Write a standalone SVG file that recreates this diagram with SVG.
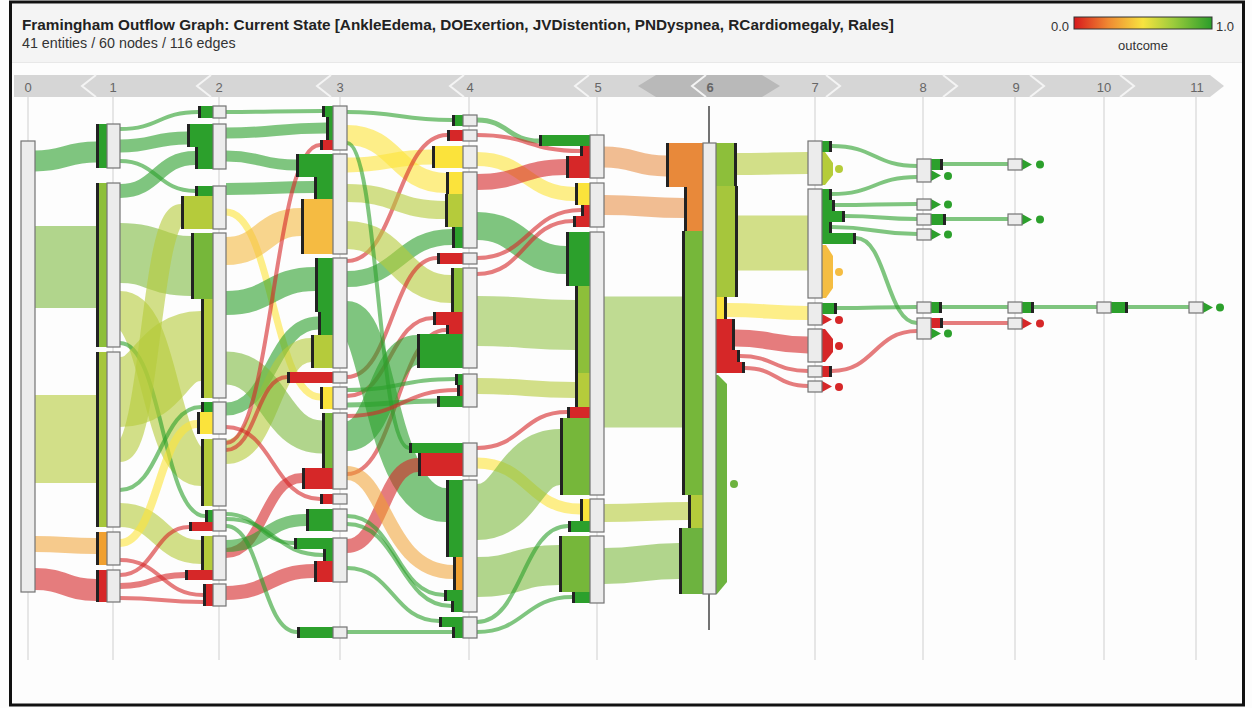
<svg xmlns="http://www.w3.org/2000/svg" width="1252" height="708" viewBox="0 0 1252 708">
<defs>
<style>
.t{font-family:"Liberation Sans",Arial,sans-serif}
.nd{fill:#ececec;stroke:#747474;stroke-width:1.2}
.k{fill:#222}
.dg{fill:#2ca02c}.rd{fill:#d62728}.ye{fill:#fbe33b}.or{fill:#f5bb42}.o2{fill:#f0a030}.o3{fill:#e8893a}
.gm{fill:#76b73a}.gl{fill:#8dbf3a}.yg{fill:#b5cb3b}.y2{fill:#a6c63c}.g6{fill:#6db33f}
.e{fill:none}
.eg{stroke:#2ca02c;stroke-opacity:.6}
.er{stroke:#d62728;stroke-opacity:.6}
.ey{stroke:#fde43a;stroke-opacity:.6}
.eo{stroke:#f0a030;stroke-opacity:.55}
.eo1{stroke:#f5bb42;stroke-opacity:.6}
.eo3{stroke:#e8893a;stroke-opacity:.55}
.e2{stroke:#7ab83a;stroke-opacity:.58}
.egl{stroke:#8dbf3a;stroke-opacity:.55}
.eyg{stroke:#b5cb3b;stroke-opacity:.6}
.grid line{stroke:#dedede;stroke-width:1.5}
.lbl{font-size:13px;fill:#666;text-anchor:middle}
.sep{fill:none;stroke:#f4f4f4;stroke-width:2}
</style>
<linearGradient id="outcomeScale" x1="0" y1="0" x2="1" y2="0">
<stop offset="0" stop-color="#d7191c"/>
<stop offset="0.25" stop-color="#f08a32"/>
<stop offset="0.5" stop-color="#f7e33f"/>
<stop offset="0.72" stop-color="#9ccc3c"/>
<stop offset="1" stop-color="#2a9d2a"/>
</linearGradient>
</defs>

<rect x="0" y="0" width="1252" height="708" fill="#fdfdfd"/>

<!-- header -->
<g id="header">
<rect x="12" y="4" width="1230" height="58" fill="#f4f4f4"/>
<line x1="12" y1="62.5" x2="1242" y2="62.5" stroke="#e8e8e8"/>
<text class="t" x="22" y="30" font-size="15.3" font-weight="bold" fill="#222">Framingham Outflow Graph: Current State [AnkleEdema, DOExertion, JVDistention, PNDyspnea, RCardiomegaly, Rales]</text>
<text class="t" x="22" y="48" font-size="14.3" fill="#333">41 entities / 60 nodes / 116 edges</text>
</g>

<!-- legend -->
<g id="legend">
<text class="t" x="1069" y="31" font-size="13" fill="#333" text-anchor="end">0.0</text>
<rect x="1074" y="17" width="138" height="12" fill="url(#outcomeScale)" stroke="#333" stroke-width="1"/>
<text class="t" x="1216" y="31" font-size="13" fill="#333">1.0</text>
<text class="t" x="1143" y="50" font-size="13" fill="#333" text-anchor="middle">outcome</text>
</g>

<!-- step timeline -->
<g id="timeline">
<polygon points="14,75 1210,75 1224,86 1210,97 14,97" fill="#d6d6d6"/>
<polygon points="656,75 762,75 780,86 762,97 656,97 638,86" fill="#b9b9b9"/>
<polyline class="sep" points="96,75 82,86 96,97"/>
<polyline class="sep" points="211,75 197,86 211,97"/>
<polyline class="sep" points="331,75 317,86 331,97"/>
<polyline class="sep" points="464,75 450,86 464,97"/>
<polyline class="sep" points="589,75 575,86 589,97"/>
<polyline class="sep" points="706,75 692,86 706,97"/>
<polyline class="sep" points="826,75 840,86 826,97"/>
<polyline class="sep" points="943,75 957,86 943,97"/>
<polyline class="sep" points="1030,75 1044,86 1030,97"/>
<polyline class="sep" points="1120,75 1134,86 1120,97"/>
<text class="t lbl" x="28" y="92">0</text>
<text class="t lbl" x="113" y="92">1</text>
<text class="t lbl" x="219" y="92">2</text>
<text class="t lbl" x="340" y="92">3</text>
<text class="t lbl" x="470" y="92">4</text>
<text class="t lbl" x="598" y="92">5</text>
<text class="t lbl" x="710" y="92" font-weight="bold" fill="#222">6</text>
<text class="t lbl" x="815" y="92">7</text>
<text class="t lbl" x="923" y="92">8</text>
<text class="t lbl" x="1016" y="92">9</text>
<text class="t lbl" x="1104" y="92">10</text>
<text class="t lbl" x="1197" y="92">11</text>
</g>

<!-- step gridlines -->
<g class="grid">
<line x1="28" y1="97" x2="28" y2="660"/>
<line x1="113" y1="97" x2="113" y2="660"/>
<line x1="219" y1="97" x2="219" y2="660"/>
<line x1="340" y1="97" x2="340" y2="660"/>
<line x1="469" y1="97" x2="469" y2="660"/>
<line x1="597" y1="97" x2="597" y2="660"/>
<line x1="815" y1="97" x2="815" y2="660"/>
<line x1="923" y1="97" x2="923" y2="660"/>
<line x1="1015" y1="97" x2="1015" y2="660"/>
<line x1="1104" y1="97" x2="1104" y2="660"/>
<line x1="1196" y1="97" x2="1196" y2="660"/>
</g>

<!-- flow edges -->
<g id="connectors">
<path class="e eg" stroke-width="21" d="M35 161C65.5 161 65.5 152 96 152"/>
<path class="e e2" stroke-width="82" d="M35 267H96"/>
<path class="e eyg" stroke-width="88" d="M35 439H96"/>
<path class="e eo" stroke-width="16" d="M35 544C65.5 544 65.5 546 96 546"/>
<path class="e er" stroke-width="22" d="M35 579C65.5 579 65.5 590 96 590"/>

<path class="e eg" stroke-width="4" d="M120 129C159 129 159 112 198 112"/>
<path class="e eg" stroke-width="13" d="M120 146C153.5 146 153.5 138 187 138"/>
<path class="e eg" stroke-width="4" d="M120 161C157.5 161 157.5 191 195 191"/>
<path class="e eg" stroke-width="14" d="M120 191C157.5 191 157.5 158 195 158"/>
<path class="e e2" stroke-width="60" d="M120 253C155.5 253 155.5 266 191 266"/>
<path class="e eyg" stroke-width="38" d="M120 310C160.5 310 160.5 467 201 467"/>
<path class="e eg" stroke-width="4" d="M120 343C162.5 343 162.5 516 205 516"/>
<path class="e eyg" stroke-width="70" d="M120 392C160.5 392 160.5 346 201 346"/>
<path class="e eyg" stroke-width="20" d="M120 452C150.5 452 150.5 214 181 214"/>
<path class="e eg" stroke-width="4" d="M120 490C160.5 490 160.5 407 201 407"/>
<path class="e eyg" stroke-width="24" d="M120 515C160.5 515 160.5 552 201 552"/>
<path class="e ey" stroke-width="8" d="M120 543C158.5 543 158.5 424 197 424"/>
<path class="e er" stroke-width="4" d="M120 560C161.5 560 161.5 595 203 595"/>
<path class="e er" stroke-width="4" d="M120 575C154.5 575 154.5 527 189 527"/>
<path class="e er" stroke-width="6" d="M120 586C152.5 586 152.5 575 185 575"/>
<path class="e er" stroke-width="4" d="M120 598C161.5 598 161.5 602 203 602"/>

<path class="e eg" stroke-width="4" d="M226 112C274 112 274 111 322 111"/>
<path class="e eg" stroke-width="11" d="M226 133C276 133 276 128 326 128"/>
<path class="e eg" stroke-width="11" d="M226 156C261 156 261 165 296 165"/>
<path class="e eg" stroke-width="12" d="M226 189C270 189 270 187 314 187"/>
<path class="e ey" stroke-width="7" d="M226 212C273 212 273 397 320 397"/>
<path class="e eo1" stroke-width="28" d="M226 251C263.5 251 263.5 222 301 222"/>
<path class="e eg" stroke-width="24" d="M226 303C270.5 303 270.5 279 315 279"/>
<path class="e eg" stroke-width="13" d="M226 409C272 409 272 323 318 323"/>
<path class="e eyg" stroke-width="24" d="M226 452C268.5 452 268.5 350 311 350"/>
<path class="e e2" stroke-width="33" d="M226 368C274 368 274 437 322 437"/>
<path class="e er" stroke-width="4" d="M226 443C273 443 273 145 320 145"/>
<path class="e er" stroke-width="4" d="M226 450C256.5 450 256.5 377 287 377"/>
<path class="e er" stroke-width="4" d="M226 427C273 427 273 499 320 499"/>
<path class="e er" stroke-width="10" d="M226 553C264 553 264 478 302 478"/>
<path class="e er" stroke-width="14" d="M226 593C270 593 270 571 314 571"/>
<path class="e eg" stroke-width="12" d="M226 546C266 546 266 520 306 520"/>
<path class="e eg" stroke-width="4" d="M226 514C260 514 260 543 294 543"/>
<path class="e eg" stroke-width="4" d="M226 519C274.5 519 274.5 555 323 555"/>
<path class="e eg" stroke-width="4" d="M226 526C261.5 526 261.5 632 297 632"/>

<path class="e eg" stroke-width="4" d="M347 112C399.5 112 399.5 120 452 120"/>
<path class="e ey" stroke-width="20" d="M347 135C396.5 135 396.5 183 446 183"/>
<path class="e ey" stroke-width="15" d="M347 165C389.5 165 389.5 157 432 157"/>
<path class="e er" stroke-width="4" d="M347 261C397 261 397 135 447 135"/>
<path class="e eyg" stroke-width="18" d="M347 193C396 193 396 210 445 210"/>
<path class="e eg" stroke-width="16" d="M347 279C399.5 279 399.5 237 452 237"/>
<path class="e eyg" stroke-width="28" d="M347 235C399 235 399 289 451 289"/>
<path class="e er" stroke-width="4" d="M347 377C392 377 392 258 437 258"/>
<path class="e er" stroke-width="4" d="M347 396C390 396 390 318 433 318"/>
<path class="e er" stroke-width="4" d="M347 474C396.5 474 396.5 330 446 330"/>
<path class="e eg" stroke-width="30" d="M347 436C382 436 382 350 417 350"/>
<path class="e eg" stroke-width="4" d="M347 143C378 143 378 448 409 448"/>
<path class="e eg" stroke-width="34" d="M347 318C380 318 380 505 446 505"/>
<path class="e eg" stroke-width="4" d="M347 390C401 390 401 379 455 379"/>
<path class="e eg" stroke-width="5" d="M347 405C392 405 392 401 437 401"/>
<path class="e er" stroke-width="4" d="M347 416C402 416 402 390 457 390"/>
<path class="e er" stroke-width="14" d="M347 546C382.5 546 382.5 465 418 465"/>
<path class="e eo" stroke-width="14" d="M347 473C386 473 386 572 453 572"/>
<path class="e eg" stroke-width="4" d="M347 516C395.5 516 395.5 595 444 595"/>
<path class="e eg" stroke-width="4" d="M347 524C399 524 399 606 451 606"/>
<path class="e eg" stroke-width="4" d="M347 568C393 568 393 621 439 621"/>
<path class="e eg" stroke-width="4" d="M347 632H452"/>

<path class="e eg" stroke-width="5" d="M477 120C508 120 508 141 539 141"/>
<path class="e er" stroke-width="4" d="M477 135C528.5 135 528.5 151 580 151"/>
<path class="e ey" stroke-width="14" d="M477 159C526 159 526 194 575 194"/>
<path class="e er" stroke-width="16" d="M477 182C521.5 182 521.5 167 566 167"/>
<path class="e eg" stroke-width="28" d="M477 226C521.5 226 521.5 260 566 260"/>
<path class="e er" stroke-width="4" d="M477 258C529 258 529 210 581 210"/>
<path class="e er" stroke-width="4" d="M477 274C525 274 525 221 573 221"/>
<path class="e egl" stroke-width="50" d="M477 321C526 321 526 325 575 325"/>
<path class="e eyg" stroke-width="16" d="M477 386C526 386 526 390 575 390"/>
<path class="e er" stroke-width="4" d="M477 448C522 448 522 412 567 412"/>
<path class="e ey" stroke-width="11" d="M477 463C528.5 463 528.5 509 580 509"/>
<path class="e e2" stroke-width="56" d="M477 512C518.5 512 518.5 457 560 457"/>
<path class="e e2" stroke-width="40" d="M477 577C518 577 518 565 559 565"/>
<path class="e eg" stroke-width="4" d="M477 622C522.5 622 522.5 526 568 526"/>
<path class="e eg" stroke-width="4" d="M477 632C524.5 632 524.5 597 572 597"/>

<path class="e eo3" stroke-width="21" d="M604 157C635 157 635 166 666 166"/>
<path class="e eo3" stroke-width="20" d="M604 205C644 205 644 208 684 208"/>
<path class="e egl" stroke-width="131" d="M604 362H682"/>
<path class="e eyg" stroke-width="18" d="M604 513C646 513 646 511 688 511"/>
<path class="e e2" stroke-width="36" d="M604 566C641.5 566 641.5 561 679 561"/>

<path class="e eyg" stroke-width="22" d="M737 164C772.5 164 772.5 163 808 163"/>
<path class="e eyg" stroke-width="55" d="M738 243H808"/>
<path class="e ey" stroke-width="14" d="M727 310C767.5 310 767.5 313 808 313"/>
<path class="e er" stroke-width="17" d="M735 338C771.5 338 771.5 345 808 345"/>
<path class="e er" stroke-width="4" d="M740 356C774 356 774 371 808 371"/>
<path class="e er" stroke-width="4" d="M745 368C776.5 368 776.5 386 808 386"/>

<path class="e eg" stroke-width="4" d="M832 146C874.5 146 874.5 166 917 166"/>
<path class="e eg" stroke-width="4" d="M832 194C874.5 194 874.5 177 917 177"/>
<path class="e eg" stroke-width="4" d="M835 205C876 205 876 204 917 204"/>
<path class="e eg" stroke-width="4" d="M845 216C881 216 881 219 917 219"/>
<path class="e eg" stroke-width="4" d="M832 227C874.5 227 874.5 234 917 234"/>
<path class="e eg" stroke-width="4" d="M856 238C886.5 238 886.5 323 917 323"/>
<path class="e eg" stroke-width="4" d="M837 308C877 308 877 307 917 307"/>
<path class="e er" stroke-width="4" d="M832 371C874.5 371 874.5 331 917 331"/>

<path class="e eg" stroke-width="4" d="M943 164H1008"/>
<path class="e eg" stroke-width="4" d="M946 219H1008"/>
<path class="e eg" stroke-width="4" d="M942 307H1008"/>
<path class="e er" stroke-width="4" d="M943 323H1008"/>
<path class="e eg" stroke-width="4" d="M1034 307H1097"/>
<path class="e eg" stroke-width="4" d="M1128 307H1189"/>
</g>

<!-- nodes: coloured bars show inflow (left) and outflow (right) -->
<g id="nodes">
<g id="n0"><rect class="nd" x="21" y="141" width="14" height="451"/></g>

<g id="n1a"><rect class="dg" x="96" y="124" width="11" height="44"/><rect class="k" x="96" y="124" width="3" height="44"/><rect class="nd" x="107" y="124" width="13" height="44"/></g>
<g id="n1b"><rect class="gl" x="96" y="183" width="11" height="164"/><rect class="k" x="96" y="183" width="3" height="164"/><rect class="nd" x="107" y="183" width="13" height="164"/></g>
<g id="n1c"><rect class="y2" x="96" y="352" width="11" height="175"/><rect class="k" x="96" y="352" width="3" height="175"/><rect class="nd" x="107" y="352" width="13" height="175"/></g>
<g id="n1d"><rect class="o2" x="96" y="532" width="11" height="33"/><rect class="k" x="96" y="532" width="3" height="33"/><rect class="nd" x="107" y="532" width="13" height="33"/></g>
<g id="n1e"><rect class="rd" x="96" y="570" width="11" height="32"/><rect class="k" x="96" y="570" width="3" height="32"/><rect class="nd" x="107" y="570" width="13" height="32"/></g>

<g id="n2a"><rect class="dg" x="198" y="106" width="15" height="12"/><rect class="k" x="198" y="106" width="3" height="12"/><rect class="nd" x="213" y="106" width="13" height="12"/></g>
<g id="n2b"><rect class="dg" x="187" y="124" width="26" height="23"/><rect class="k" x="187" y="124" width="3" height="23"/><rect class="dg" x="195" y="147" width="18" height="22"/><rect class="k" x="195" y="147" width="3" height="22"/><rect class="nd" x="213" y="124" width="13" height="45"/></g>
<g id="n2c"><rect class="dg" x="195" y="186" width="18" height="10"/><rect class="k" x="195" y="186" width="3" height="10"/><rect class="yg" x="181" y="196" width="32" height="33"/><rect class="k" x="181" y="196" width="3" height="33"/><rect class="nd" x="213" y="186" width="13" height="43"/></g>
<g id="n2d"><rect class="gm" x="191" y="233" width="22" height="66"/><rect class="k" x="191" y="233" width="3" height="66"/><rect class="yg" x="201" y="299" width="12" height="99"/><rect class="k" x="201" y="299" width="3" height="99"/><rect class="nd" x="213" y="233" width="13" height="165"/></g>
<g id="n2e"><rect class="dg" x="201" y="402" width="12" height="10"/><rect class="k" x="201" y="402" width="3" height="10"/><rect class="ye" x="197" y="412" width="16" height="22"/><rect class="k" x="197" y="412" width="3" height="22"/><rect class="nd" x="213" y="402" width="13" height="32"/></g>
<g id="n2f"><rect class="yg" x="201" y="439" width="12" height="67"/><rect class="k" x="201" y="439" width="3" height="67"/><rect class="nd" x="213" y="439" width="13" height="67"/></g>
<g id="n2g"><rect class="dg" x="205" y="510" width="8" height="12"/><rect class="k" x="205" y="510" width="3" height="12"/><rect class="rd" x="189" y="522" width="24" height="9"/><rect class="k" x="189" y="522" width="3" height="9"/><rect class="nd" x="213" y="510" width="13" height="21"/></g>
<g id="n2h"><rect class="yg" x="201" y="536" width="12" height="34"/><rect class="k" x="201" y="536" width="3" height="34"/><rect class="rd" x="185" y="570" width="28" height="10"/><rect class="k" x="185" y="570" width="3" height="10"/><rect class="nd" x="213" y="536" width="13" height="44"/></g>
<g id="n2i"><rect class="rd" x="203" y="584" width="10" height="11"/><rect class="k" x="203" y="584" width="3" height="11"/><rect class="rd" x="203" y="595" width="10" height="11"/><rect class="k" x="203" y="595" width="3" height="11"/><rect class="nd" x="213" y="584" width="13" height="22"/></g>

<g id="n3a"><rect class="dg" x="322" y="106" width="11" height="11"/><rect class="k" x="322" y="106" width="3" height="11"/><rect class="dg" x="326" y="117" width="7" height="23"/><rect class="k" x="326" y="117" width="3" height="23"/><rect class="rd" x="320" y="140" width="13" height="10"/><rect class="k" x="320" y="140" width="3" height="10"/><rect class="nd" x="333" y="106" width="14" height="44"/></g>
<g id="n3b"><rect class="dg" x="296" y="154" width="37" height="23"/><rect class="k" x="296" y="154" width="3" height="23"/><rect class="dg" x="314" y="177" width="19" height="22"/><rect class="k" x="314" y="177" width="3" height="22"/><rect class="or" x="301" y="199" width="32" height="55"/><rect class="k" x="301" y="199" width="3" height="55"/><rect class="nd" x="333" y="154" width="14" height="100"/></g>
<g id="n3c"><rect class="dg" x="315" y="258" width="18" height="54"/><rect class="k" x="315" y="258" width="3" height="54"/><rect class="dg" x="318" y="312" width="15" height="23"/><rect class="k" x="318" y="312" width="3" height="23"/><rect class="yg" x="311" y="335" width="22" height="33"/><rect class="k" x="311" y="335" width="3" height="33"/><rect class="nd" x="333" y="258" width="14" height="110"/></g>
<g id="n3d"><rect class="rd" x="287" y="372" width="46" height="11"/><rect class="k" x="287" y="372" width="3" height="11"/><rect class="nd" x="333" y="372" width="14" height="11"/></g>
<g id="n3e"><rect class="ye" x="320" y="387" width="13" height="22"/><rect class="k" x="320" y="387" width="3" height="22"/><rect class="nd" x="333" y="387" width="14" height="22"/></g>
<g id="n3f"><rect class="gm" x="322" y="413" width="11" height="55"/><rect class="k" x="322" y="413" width="3" height="55"/><rect class="rd" x="302" y="468" width="31" height="21"/><rect class="k" x="302" y="468" width="3" height="21"/><rect class="nd" x="333" y="413" width="14" height="76"/></g>
<g id="n3g"><rect class="rd" x="320" y="494" width="13" height="10"/><rect class="k" x="320" y="494" width="3" height="10"/><rect class="nd" x="333" y="494" width="14" height="10"/></g>
<g id="n3h"><rect class="dg" x="306" y="509" width="27" height="22"/><rect class="k" x="306" y="509" width="3" height="22"/><rect class="nd" x="333" y="509" width="14" height="22"/></g>
<g id="n3i"><rect class="dg" x="294" y="538" width="39" height="11"/><rect class="k" x="294" y="538" width="3" height="11"/><rect class="dg" x="323" y="549" width="10" height="12"/><rect class="k" x="323" y="549" width="3" height="12"/><rect class="rd" x="314" y="561" width="19" height="21"/><rect class="k" x="314" y="561" width="3" height="21"/><rect class="nd" x="333" y="538" width="14" height="44"/></g>
<g id="n3j"><rect class="dg" x="297" y="627" width="36" height="11"/><rect class="k" x="297" y="627" width="3" height="11"/><rect class="nd" x="333" y="627" width="14" height="11"/></g>

<g id="n4a"><rect class="dg" x="452" y="115" width="11" height="11"/><rect class="k" x="452" y="115" width="3" height="11"/><rect class="nd" x="463" y="115" width="14" height="11"/></g>
<g id="n4b"><rect class="rd" x="447" y="130" width="16" height="11"/><rect class="k" x="447" y="130" width="3" height="11"/><rect class="nd" x="463" y="130" width="14" height="11"/></g>
<g id="n4c"><rect class="ye" x="432" y="146" width="31" height="22"/><rect class="k" x="432" y="146" width="3" height="22"/><rect class="nd" x="463" y="146" width="14" height="22"/></g>
<g id="n4d"><rect class="ye" x="446" y="172" width="17" height="22"/><rect class="k" x="446" y="172" width="3" height="22"/><rect class="yg" x="445" y="194" width="18" height="33"/><rect class="k" x="445" y="194" width="3" height="33"/><rect class="dg" x="452" y="227" width="11" height="21"/><rect class="k" x="452" y="227" width="3" height="21"/><rect class="nd" x="463" y="172" width="14" height="76"/></g>
<g id="n4e"><rect class="rd" x="437" y="253" width="26" height="11"/><rect class="k" x="437" y="253" width="3" height="11"/><rect class="nd" x="463" y="253" width="14" height="11"/></g>
<g id="n4f"><rect class="gl" x="451" y="268" width="12" height="44"/><rect class="k" x="451" y="268" width="3" height="44"/><rect class="rd" x="433" y="312" width="30" height="13"/><rect class="k" x="433" y="312" width="3" height="13"/><rect class="rd" x="446" y="325" width="17" height="9"/><rect class="k" x="446" y="325" width="3" height="9"/><rect class="dg" x="417" y="334" width="46" height="34"/><rect class="k" x="417" y="334" width="3" height="34"/><rect class="nd" x="463" y="268" width="14" height="100"/></g>
<g id="n4g"><rect class="dg" x="455" y="374" width="8" height="11"/><rect class="k" x="455" y="374" width="3" height="11"/><rect class="rd" x="457" y="385" width="6" height="11"/><rect class="k" x="457" y="385" width="3" height="11"/><rect class="dg" x="437" y="396" width="26" height="11"/><rect class="k" x="437" y="396" width="3" height="11"/><rect class="nd" x="463" y="374" width="14" height="33"/></g>
<g id="n4h"><rect class="dg" x="409" y="443" width="54" height="10"/><rect class="k" x="409" y="443" width="3" height="10"/><rect class="rd" x="418" y="453" width="45" height="23"/><rect class="k" x="418" y="453" width="3" height="23"/><rect class="nd" x="463" y="443" width="14" height="33"/></g>
<g id="n4i"><rect class="dg" x="446" y="480" width="17" height="77"/><rect class="k" x="446" y="480" width="3" height="77"/><rect class="o2" x="453" y="557" width="10" height="33"/><rect class="k" x="453" y="557" width="3" height="33"/><rect class="dg" x="444" y="590" width="19" height="11"/><rect class="k" x="444" y="590" width="3" height="11"/><rect class="dg" x="451" y="601" width="12" height="11"/><rect class="k" x="451" y="601" width="3" height="11"/><rect class="nd" x="463" y="480" width="14" height="132"/></g>
<g id="n4j"><rect class="dg" x="439" y="617" width="24" height="10"/><rect class="k" x="439" y="617" width="3" height="10"/><rect class="dg" x="452" y="627" width="11" height="11"/><rect class="k" x="452" y="627" width="3" height="11"/><rect class="nd" x="463" y="617" width="14" height="21"/></g>

<g id="n5a"><rect class="dg" x="539" y="135" width="51" height="11"/><rect class="k" x="539" y="135" width="3" height="11"/><rect class="rd" x="580" y="146" width="10" height="10"/><rect class="k" x="580" y="146" width="3" height="10"/><rect class="rd" x="566" y="156" width="24" height="22"/><rect class="k" x="566" y="156" width="3" height="22"/><rect class="nd" x="590" y="135" width="14" height="43"/></g>
<g id="n5b"><rect class="ye" x="575" y="183" width="15" height="22"/><rect class="k" x="575" y="183" width="3" height="22"/><rect class="rd" x="581" y="205" width="9" height="11"/><rect class="k" x="581" y="205" width="3" height="11"/><rect class="rd" x="573" y="216" width="17" height="11"/><rect class="k" x="573" y="216" width="3" height="11"/><rect class="nd" x="590" y="183" width="14" height="44"/></g>
<g id="n5c"><rect class="dg" x="566" y="232" width="24" height="54"/><rect class="k" x="566" y="232" width="3" height="54"/><rect class="gl" x="575" y="286" width="15" height="87"/><rect class="k" x="575" y="286" width="3" height="87"/><rect class="yg" x="575" y="373" width="15" height="34"/><rect class="k" x="575" y="373" width="3" height="34"/><rect class="rd" x="567" y="407" width="23" height="11"/><rect class="k" x="567" y="407" width="3" height="11"/><rect class="gm" x="560" y="418" width="30" height="77"/><rect class="k" x="560" y="418" width="3" height="77"/><rect class="nd" x="590" y="232" width="14" height="263"/></g>
<g id="n5d"><rect class="ye" x="580" y="499" width="10" height="22"/><rect class="k" x="580" y="499" width="3" height="22"/><rect class="dg" x="568" y="521" width="22" height="11"/><rect class="k" x="568" y="521" width="3" height="11"/><rect class="nd" x="590" y="499" width="14" height="33"/></g>
<g id="n5e"><rect class="gm" x="559" y="536" width="31" height="56"/><rect class="k" x="559" y="536" width="3" height="56"/><rect class="dg" x="572" y="592" width="18" height="11"/><rect class="k" x="572" y="592" width="3" height="11"/><rect class="nd" x="590" y="536" width="14" height="67"/></g>

<g id="n6">
<line x1="709" y1="106" x2="709" y2="143" stroke="#444" stroke-width="1.5"/>
<line x1="709" y1="594" x2="709" y2="630" stroke="#444" stroke-width="1.5"/>
<rect class="o3" x="666" y="143" width="37" height="44"/><rect class="k" x="666" y="143" width="3" height="44"/>
<rect class="o3" x="684" y="187" width="19" height="44"/><rect class="k" x="684" y="187" width="3" height="44"/>
<rect class="gm" x="682" y="231" width="21" height="264"/><rect class="k" x="682" y="231" width="3" height="264"/>
<rect class="yg" x="688" y="495" width="15" height="33"/><rect class="k" x="688" y="495" width="3" height="33"/>
<rect class="g6" x="679" y="528" width="24" height="66"/><rect class="k" x="679" y="528" width="3" height="66"/>
<rect class="gl" x="716" y="143" width="21" height="43"/><rect class="k" x="734" y="143" width="3" height="43"/>
<rect class="y2" x="716" y="186" width="22" height="111"/><rect class="k" x="735" y="186" width="3" height="111"/>
<rect class="ye" x="716" y="297" width="11" height="22"/><rect class="k" x="724" y="297" width="3" height="22"/>
<rect class="rd" x="716" y="319" width="19" height="31"/><rect class="k" x="732" y="319" width="3" height="31"/>
<rect class="rd" x="716" y="350" width="24" height="12"/><rect class="k" x="737" y="350" width="3" height="12"/>
<rect class="rd" x="716" y="362" width="29" height="11"/><rect class="k" x="742" y="362" width="3" height="11"/>
<polygon class="g6" points="716,375 718,375 727,384 727,582 717,594 716,594"/>
<circle class="g6" cx="734" cy="484" r="4"/>
<rect class="nd" x="703" y="143" width="13" height="451"/>
</g>

<g id="n7a"><rect class="dg" x="822" y="141" width="10" height="11"/><rect class="k" x="829" y="141" width="3" height="11"/><polygon points="822,152 825,152 833,163 833,175 825,185 822,185" fill="#b5cc3a"/><circle cx="839" cy="169" r="4" fill="#b5cc3a"/><rect class="nd" x="808" y="141" width="14" height="44"/></g>
<g id="n7b"><rect class="dg" x="822" y="189" width="10" height="11"/><rect class="k" x="829" y="189" width="3" height="11"/><rect class="dg" x="822" y="200" width="13" height="11"/><rect class="k" x="832" y="200" width="3" height="11"/><rect class="dg" x="822" y="211" width="23" height="11"/><rect class="k" x="842" y="211" width="3" height="11"/><rect class="dg" x="822" y="222" width="10" height="11"/><rect class="k" x="829" y="222" width="3" height="11"/><rect class="dg" x="822" y="233" width="34" height="11"/><rect class="k" x="853" y="233" width="3" height="11"/><polygon points="822,245 826,245 833,256 833,288 826,298 822,298" fill="#f5bd42"/><circle cx="839" cy="272" r="4" fill="#f5bd42"/><rect class="nd" x="808" y="189" width="14" height="109"/></g>
<g id="n7c"><rect class="dg" x="822" y="303" width="15" height="11"/><rect class="k" x="834" y="303" width="3" height="11"/><polygon class="rd" points="822,314 832,319.5 822,325"/><circle class="rd" cx="839" cy="320" r="4"/><rect class="nd" x="808" y="303" width="14" height="22"/></g>
<g id="n7d"><polygon class="rd" points="822,329 825,329 833,339 833,352 825,362 822,362"/><circle class="rd" cx="839" cy="346" r="4"/><rect class="nd" x="808" y="329" width="14" height="33"/></g>
<g id="n7e"><rect class="rd" x="822" y="366" width="10" height="11"/><rect class="k" x="829" y="366" width="3" height="11"/><rect class="nd" x="808" y="366" width="14" height="11"/></g>
<g id="n7f"><polygon class="rd" points="822,381 832,386.5 822,392"/><circle class="rd" cx="839" cy="387" r="4"/><rect class="nd" x="808" y="381" width="14" height="11"/></g>

<g id="n8a"><rect class="dg" x="931" y="159" width="12" height="11"/><rect class="k" x="940" y="159" width="3" height="11"/><polygon class="dg" points="931,170 941,175.5 931,181"/><circle class="dg" cx="948" cy="176" r="4"/><rect class="nd" x="917" y="159" width="14" height="23"/></g>
<g id="n8b"><polygon class="dg" points="931,199 941,204.5 931,210"/><circle class="dg" cx="948" cy="204.5" r="4"/><rect class="nd" x="917" y="199" width="14" height="11"/></g>
<g id="n8c"><rect class="dg" x="931" y="214" width="15" height="11"/><rect class="k" x="943" y="214" width="3" height="11"/><rect class="nd" x="917" y="214" width="14" height="11"/></g>
<g id="n8d"><polygon class="dg" points="931,229 941,234.5 931,240"/><circle class="dg" cx="948" cy="234.5" r="4"/><rect class="nd" x="917" y="229" width="14" height="11"/></g>
<g id="n8e"><rect class="dg" x="931" y="302" width="11" height="11"/><rect class="k" x="939" y="302" width="3" height="11"/><rect class="nd" x="917" y="302" width="14" height="11"/></g>
<g id="n8f"><rect class="rd" x="931" y="318" width="12" height="10"/><rect class="k" x="940" y="318" width="3" height="10"/><polygon class="dg" points="931,328 941,333.5 931,339"/><circle class="dg" cx="948" cy="333.5" r="4"/><rect class="nd" x="917" y="318" width="14" height="21"/></g>

<g id="n9a"><polygon class="dg" points="1022,159 1032,164.5 1022,170"/><circle class="dg" cx="1040" cy="164.5" r="4"/><rect class="nd" x="1008" y="159" width="14" height="11"/></g>
<g id="n9b"><polygon class="dg" points="1022,214 1032,219.5 1022,225"/><circle class="dg" cx="1040" cy="219.5" r="4"/><rect class="nd" x="1008" y="214" width="14" height="11"/></g>
<g id="n9c"><rect class="dg" x="1022" y="302" width="12" height="11"/><rect class="k" x="1031" y="302" width="3" height="11"/><rect class="nd" x="1008" y="302" width="14" height="11"/></g>
<g id="n9d"><polygon class="rd" points="1022,318 1032,323.5 1022,329"/><circle class="rd" cx="1040" cy="323.5" r="4"/><rect class="nd" x="1008" y="318" width="14" height="11"/></g>

<g id="n10a"><rect class="dg" x="1111" y="302" width="17" height="11"/><rect class="k" x="1125" y="302" width="3" height="11"/><rect class="nd" x="1097" y="302" width="14" height="11"/></g>
<g id="n11a"><polygon class="dg" points="1203,302 1213,307.5 1203,313"/><circle class="dg" cx="1220" cy="307.5" r="4"/><rect class="nd" x="1189" y="302" width="14" height="11"/></g>
</g>

<rect x="10.5" y="2" width="1233" height="703" fill="none" stroke="#111" stroke-width="3"/>
</svg>
